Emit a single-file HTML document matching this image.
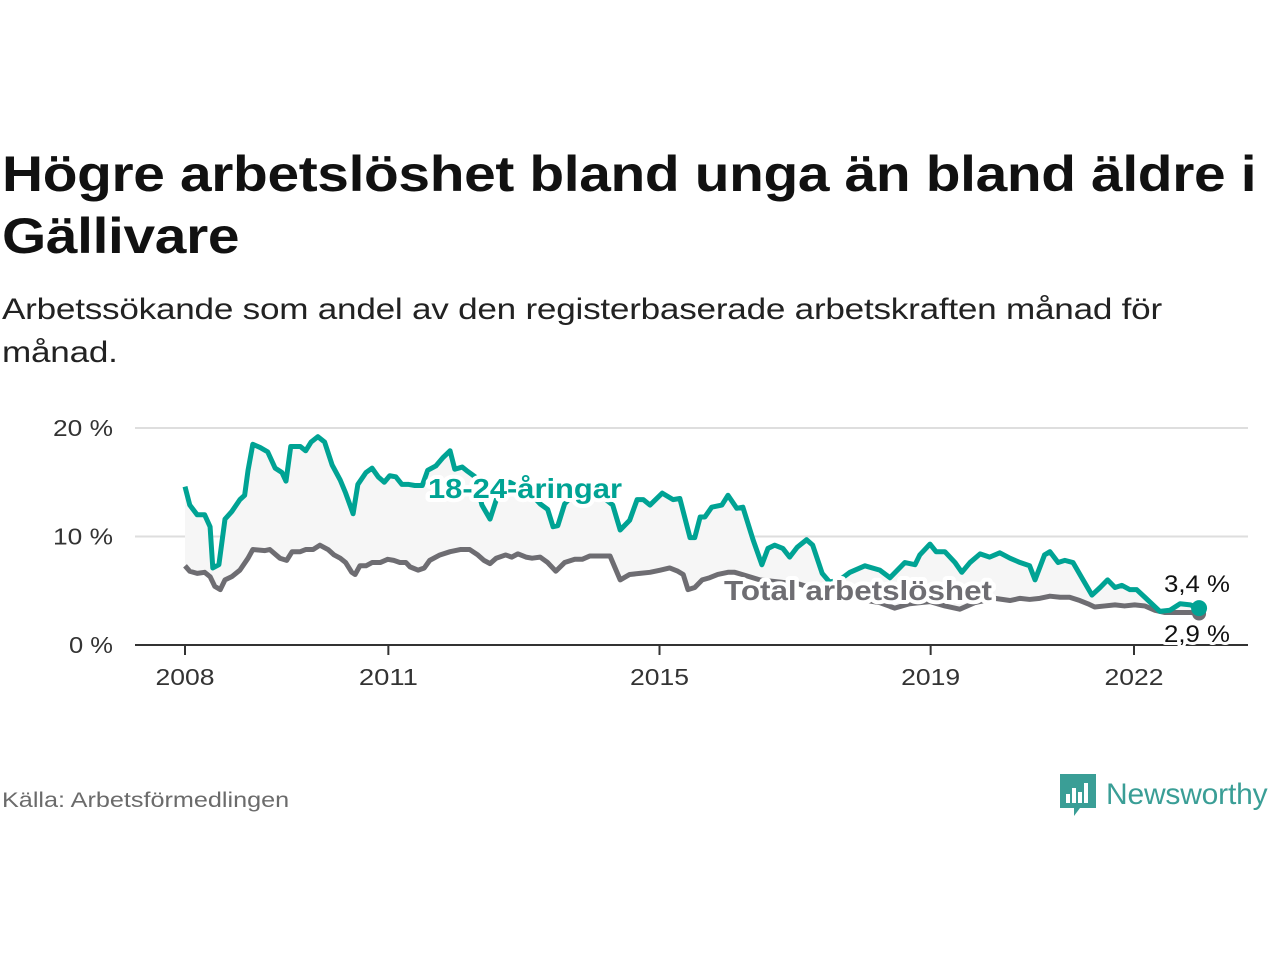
<!DOCTYPE html>
<html><head><meta charset="utf-8"><style>
body{margin:0;width:1280px;height:960px;background:#fff;font-family:"Liberation Sans",sans-serif;position:relative;overflow:hidden;color:#111}
.t{position:absolute;left:2px;top:143px;font-size:50px;font-weight:bold;line-height:62px;color:#111;letter-spacing:-0.3px;transform:scaleX(1.137);transform-origin:0 0;white-space:nowrap}
.s{position:absolute;left:2px;top:288px;font-size:30px;line-height:43px;color:#222;letter-spacing:-0.2px;transform:scaleX(1.17);transform-origin:0 0;white-space:nowrap}
.src{position:absolute;left:2px;top:789px;font-size:21px;color:#6b6b6b;transform:scaleX(1.2);transform-origin:0 0;white-space:nowrap}
.logo{position:absolute;left:1060px;top:774px;display:flex;align-items:center}
</style></head><body>
<div class="t">Högre arbetslöshet bland unga än bland äldre i<br>Gällivare</div>
<div class="s">Arbetssökande som andel av den registerbaserade arbetskraften månad för<br>månad.</div>
<svg id="chart" style="position:absolute;left:0;top:0" width="1280" height="960"></svg>
<div class="src">Källa: Arbetsförmedlingen</div>
<div class="logo">
<svg width="36" height="42" viewBox="0 0 36 42"><path d="M0 0H36V34H20L14 42V34H0Z" fill="#3a9e96"/><rect x="6" y="20" width="4" height="9" fill="#fff"/><rect x="12" y="14" width="4" height="15" fill="#fff"/><rect x="18" y="18" width="4" height="11" fill="#fff"/><rect x="24" y="9" width="4" height="20" fill="#fff"/></svg>
<span style="font-size:30px;color:#3a9e96;margin-left:10px;letter-spacing:-0.2px">Newsworthy</span></div>
<script>
const youthDates=[2008.00,2008.07,2008.18,2008.29,2008.37,2008.41,2008.50,2008.59,2008.69,2008.81,2008.88,2008.93,2009.00,2009.11,2009.22,2009.33,2009.43,2009.49,2009.56,2009.70,2009.78,2009.86,2009.96,2010.06,2010.17,2010.29,2010.37,2010.48,2010.55,2010.67,2010.76,2010.85,2010.94,2011.02,2011.11,2011.20,2011.30,2011.39,2011.50,2011.58,2011.70,2011.81,2011.91,2011.98,2012.09,2012.17,2012.28,2012.38,2012.50,2012.65,2012.79,2012.94,2013.09,2013.24,2013.35,2013.43,2013.50,2013.60,2013.75,2013.97,2014.19,2014.31,2014.42,2014.56,2014.67,2014.76,2014.86,2015.04,2015.20,2015.30,2015.45,2015.52,2015.60,2015.67,2015.77,2015.92,2016.01,2016.14,2016.23,2016.38,2016.51,2016.60,2016.70,2016.82,2016.92,2017.03,2017.17,2017.26,2017.40,2017.51,2017.66,2017.81,2018.03,2018.25,2018.40,2018.62,2018.77,2018.84,2018.99,2019.08,2019.21,2019.36,2019.46,2019.58,2019.73,2019.87,2020.02,2020.17,2020.32,2020.46,2020.54,2020.68,2020.76,2020.88,2020.98,2021.10,2021.23,2021.38,2021.50,2021.61,2021.72,2021.82,2021.94,2022.04,2022.16,2022.38,2022.53,2022.68,2022.83,2022.96];
const youthValues=[14.6,12.9,12.0,12.0,10.9,7.1,7.4,11.6,12.3,13.4,13.8,16.1,18.5,18.2,17.8,16.3,15.9,15.1,18.3,18.3,17.9,18.7,19.2,18.7,16.6,15.2,14.0,12.1,14.8,15.9,16.3,15.5,15.0,15.6,15.5,14.8,14.8,14.7,14.7,16.1,16.5,17.3,17.9,16.2,16.4,16.0,15.5,12.9,11.6,14.5,15.0,14.5,14.0,13.0,12.5,10.9,11.0,13.0,14.0,14.0,13.5,12.9,10.6,11.5,13.4,13.4,12.9,14.0,13.4,13.5,9.9,9.9,11.8,11.8,12.7,12.9,13.8,12.6,12.7,9.7,7.4,8.9,9.2,8.9,8.1,9.0,9.7,9.2,6.6,5.8,6.0,6.7,7.3,6.9,6.2,7.6,7.4,8.3,9.3,8.6,8.6,7.6,6.7,7.6,8.4,8.1,8.5,8.0,7.6,7.3,6.0,8.3,8.6,7.6,7.8,7.6,6.2,4.6,5.3,6.0,5.3,5.5,5.1,5.1,4.4,3.1,3.2,3.8,3.7,3.4];
const totalDates=[2008.00,2008.07,2008.18,2008.29,2008.37,2008.44,2008.52,2008.59,2008.69,2008.81,2008.93,2009.00,2009.18,2009.25,2009.40,2009.50,2009.58,2009.70,2009.78,2009.89,2009.99,2010.11,2010.20,2010.29,2010.37,2010.46,2010.51,2010.58,2010.67,2010.76,2010.88,2010.99,2011.08,2011.17,2011.26,2011.32,2011.44,2011.53,2011.61,2011.76,2011.91,2012.06,2012.20,2012.32,2012.41,2012.50,2012.59,2012.73,2012.82,2012.91,2013.03,2013.12,2013.24,2013.35,2013.47,2013.60,2013.75,2013.86,2013.97,2014.12,2014.27,2014.42,2014.56,2014.71,2014.86,2015.01,2015.15,2015.27,2015.35,2015.42,2015.52,2015.63,2015.74,2015.86,2016.01,2016.11,2016.22,2016.48,2016.78,2017.07,2017.37,2017.66,2017.96,2018.25,2018.47,2018.69,2018.99,2019.21,2019.43,2019.65,2019.95,2020.17,2020.32,2020.46,2020.61,2020.76,2020.91,2021.05,2021.20,2021.32,2021.42,2021.57,2021.72,2021.86,2022.01,2022.16,2022.31,2022.45,2022.68,2022.83,2022.96];
const totalValues=[7.3,6.8,6.6,6.7,6.3,5.4,5.1,6.0,6.3,6.9,8.0,8.8,8.7,8.8,8.0,7.8,8.6,8.6,8.8,8.8,9.2,8.8,8.3,8.0,7.6,6.7,6.5,7.3,7.3,7.6,7.6,7.9,7.8,7.6,7.6,7.2,6.9,7.1,7.8,8.3,8.6,8.8,8.8,8.3,7.8,7.5,8.0,8.3,8.1,8.4,8.1,8.0,8.1,7.6,6.8,7.6,7.9,7.9,8.2,8.2,8.2,6.0,6.5,6.6,6.7,6.9,7.1,6.8,6.5,5.1,5.3,6.0,6.2,6.5,6.7,6.7,6.5,6.0,5.8,5.6,5.0,4.6,4.2,3.9,3.4,3.8,4.0,3.6,3.3,3.9,4.3,4.1,4.3,4.2,4.3,4.5,4.4,4.4,4.1,3.8,3.5,3.6,3.7,3.6,3.7,3.6,3.2,3.0,3.0,3.0,2.9];
const xTicks=[2008,2011,2015,2019,2022];
const yTicks=[0,10,20];
const yTickLabels=["0 %","10 %","20 %"];
const svg=document.getElementById('chart');const NS='http://www.w3.org/2000/svg';
const X=y=>185+(y-2008)*(1134-185)/14;
const Y=v=>645-v*10.85;
function mk(t,a,p){const e=document.createElementNS(NS,t);for(const k in a)e.setAttribute(k,a[k]);(p||svg).appendChild(e);return e;}
yTicks.forEach((v,i)=>{
 if(v>0){const g=mk('line',{x1:135,x2:1248,y1:Y(v),y2:Y(v),stroke:'#dedede','stroke-width':2});
 
 }
 const t=mk('text',{x:113,y:Y(v)+8,'text-anchor':'end','font-size':23,fill:'#333',textLength:v>0?60:44,lengthAdjust:'spacingAndGlyphs'});t.textContent=yTickLabels[i];
 
 
});
let d='M'+youthDates.map((x,i)=>X(x)+','+Y(youthValues[i])).join('L');
for(let i=totalDates.length-1;i>=0;i--)d+='L'+X(totalDates[i])+','+Y(totalValues[i]);
const area=mk('path',{d:d+'Z',fill:'#f6f6f6'});


const ax=mk('line',{x1:135,x2:1248,y1:645,y2:645,stroke:'#333','stroke-width':2});


xTicks.forEach(v=>{mk('line',{x1:X(v),x2:X(v),y1:645,y2:655,stroke:'#333','stroke-width':2});
 const t=mk('text',{x:X(v),y:685,'text-anchor':'middle','font-size':23,fill:'#333',textLength:59,lengthAdjust:'spacingAndGlyphs'});t.textContent=v;
 
 });
function line(ds,vs,c,name){const p=mk('path',{d:'M'+ds.map((x,i)=>X(x)+','+Y(vs[i])).join('L'),fill:'none',stroke:c,'stroke-width':5,'stroke-linejoin':'round'});
 
 }
line(totalDates,totalValues,'#6e6d72','total-line');
line(youthDates,youthValues,'#00a394','youth-line');
const n1=youthDates.length-1,n2=totalDates.length-1;
const d2=mk('circle',{cx:X(totalDates[n2]),cy:Y(totalValues[n2]),r:7,fill:'#6e6d72'});


const d1=mk('circle',{cx:X(youthDates[n1]),cy:Y(youthValues[n1]),r:8,fill:'#00a394'});


function lab(x,y,txt,c,name,anchor,bold,len){const a={x:x,y:y,'font-size':bold?28:24,'font-weight':bold?'bold':'normal','text-anchor':anchor||'start',fill:c,stroke:'#fff','stroke-width':bold?8:6,'paint-order':'stroke','stroke-linejoin':'round',textLength:len,lengthAdjust:'spacingAndGlyphs'};
 const t=mk('text',a);t.textContent=txt;
 
 }
lab(428,498,'18-24-åringar','#00a394','youth-series-label','start',true,194);
lab(724,600,'Total arbetslöshet','#6e6d72','total-series-label','start',true,268);
lab(1230,592,(youthValues[n1]+'').replace('.',',')+' %','#111','youth-end-value','end',false,66);
lab(1230,642,(totalValues[n2]+'').replace('.',',')+' %','#111','total-end-value','end',false,66);
</script>
</body></html>
